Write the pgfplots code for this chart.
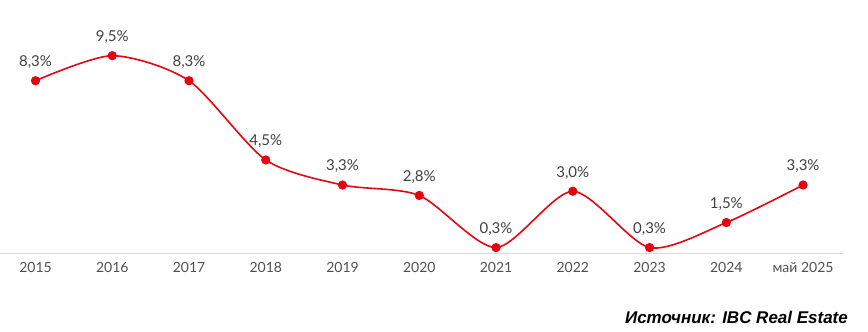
\documentclass[border=0pt]{standalone}
\usepackage{pgfplots}
\pgfplotsset{compat=1.18}
\usepackage{fontspec}
\setmainfont{Lato}
\newfontfamily\srcfont{Liberation Sans}
\definecolor{lred}{HTML}{E30613}
\definecolor{lblgray}{HTML}{404040}
\definecolor{tickgray}{HTML}{505050}
\definecolor{axgray}{HTML}{D9D9D9}
\begin{document}
\begin{tikzpicture}[x=1pt,y=1pt]
\begin{axis}[
  scale only axis,
  width=843pt, height=225.4pt,
  xmin=-0.456, xmax=10.52,
  ymin=0, ymax=10.8,
  clip=false,
  axis y line=none,
  axis x line*=bottom,
  x axis line style={draw=axgray, line width=1pt, -},
  xtick={0,...,10},
  xticklabels={2015,2016,2017,2018,2019,2020,2021,2022,2023,2024,май 2025},
  major tick length=0pt,
  xticklabel style={font=\fontsize{14}{16}\selectfont, text=tickgray, yshift=-5pt},
  nodes near coords,
  point meta=explicit symbolic,
  every node near coord/.style={font=\fontsize{15}{17}\selectfont, text=lblgray, anchor=south, yshift=8pt},
]
\addplot[lred, line width=1.6pt, smooth, tension=0.45, mark=*, mark size=3.8pt, mark options={fill=lred, draw=lred}]
  table[meta=lab] {
x y lab
0 8.3 8,3\%
1 9.5 9,5\%
2 8.3 8,3\%
3 4.5 4,5\%
4 3.3 3,3\%
5 2.8 2,8\%
6 0.3 0,3\%
7 3.0 3,0\%
8 0.3 0,3\%
9 1.5 1,5\%
10 3.3 3,3\%
};
\path (axis cs:-0.456,-3.74) rectangle (axis cs:10.846,12.17);
\node[anchor=east, font=\srcfont\bfseries\itshape\fontsize{17}{19}\selectfont, inner sep=0pt] at (axis cs:10.586,-3.07) {Источник: IBC Real Estate};
\end{axis}
\end{tikzpicture}
\end{document}
